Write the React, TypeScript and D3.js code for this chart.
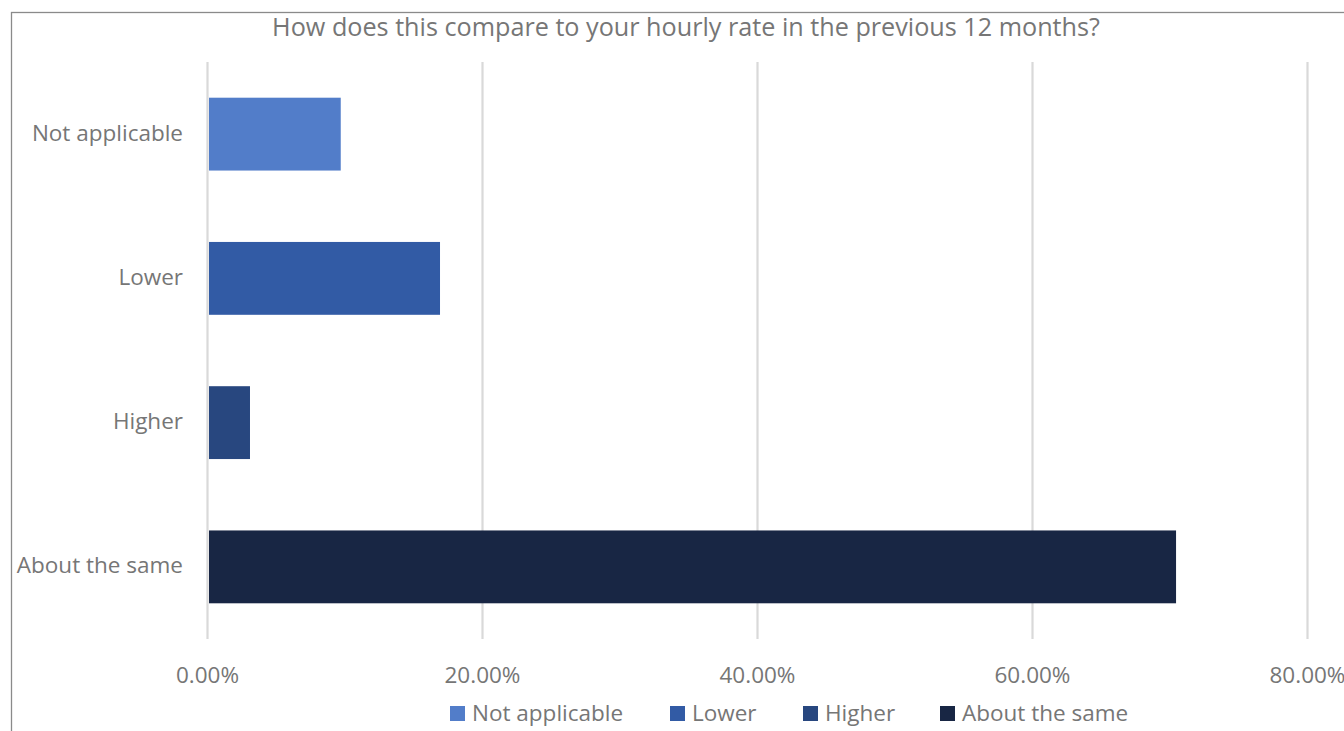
import React from "react";
import * as d3 from "d3";

const categories = ["Not applicable", "Lower", "Higher", "About the same"];
const values = [0.0969, 0.1691, 0.0309, 0.7044];
const colors = ["#527dc9", "#325ba5", "#28477f", "#182644"];
const xTicks = [0, 0.2, 0.4, 0.6, 0.8];
const title = "How does this compare to your hourly rate in the previous 12 months?";

const W = 1344;
const H = 731;
const FONT = "'Open Sans', Lato, sans-serif";
const TEXT = "#767676";

export default function App() {
  const x = d3.scaleLinear().domain([0, 0.8]).range([207.5, 1307.5]);
  const y = d3
    .scaleBand<string>()
    .domain(categories)
    .range([62, 639])
    .paddingInner(0.495)
    .paddingOuter(0.2475);
  const fmt = d3.format(".2%");

  const legendX = [450, 670, 803, 940];

  return (
    <svg
      width={W}
      height={H}
      style={{ position: "absolute", left: 0, top: 0, background: "#fff" }}
      fontFamily={FONT}
    >
      <rect x={0} y={0} width={W} height={H} fill="#fff" />
      <rect x={11.5} y={12.5} width={1400} height={800} fill="none" stroke="#8a8a8a" strokeWidth={1.3} />
      <text x={686} y={36} textAnchor="middle" fontSize={25.2} fill={TEXT}>
        {title}
      </text>
      {xTicks.map((t) => (
        <line key={t} x1={x(t)} x2={x(t)} y1={62} y2={639} stroke="#d9d9d9" strokeWidth={2.2} />
      ))}
      {categories.map((c, i) => (
        <rect
          key={c}
          x={x(0) + 1.5}
          y={y(c)!}
          width={x(values[i]) - x(0) - 1.5}
          height={y.bandwidth()}
          fill={colors[i]}
        />
      ))}
      {categories.map((c) => (
        <text
          key={c}
          x={183}
          y={y(c)! + y.bandwidth() / 2 + 6.5}
          textAnchor="end"
          fontSize={22.5}
          fill={TEXT}
        >
          {c}
        </text>
      ))}
      {xTicks.map((t) => (
        <text key={t} x={x(t)} y={683} textAnchor="middle" fontSize={22.5} fill={TEXT}>
          {fmt(t)}
        </text>
      ))}
      {categories.map((c, i) => (
        <g key={c} transform={`translate(${legendX[i]},0)`}>
          <rect x={0} y={706} width={15} height={15} fill={colors[i]} />
          <text x={22} y={721} fontSize={22.5} fill={TEXT}>
            {c}
          </text>
        </g>
      ))}
    </svg>
  );
}
